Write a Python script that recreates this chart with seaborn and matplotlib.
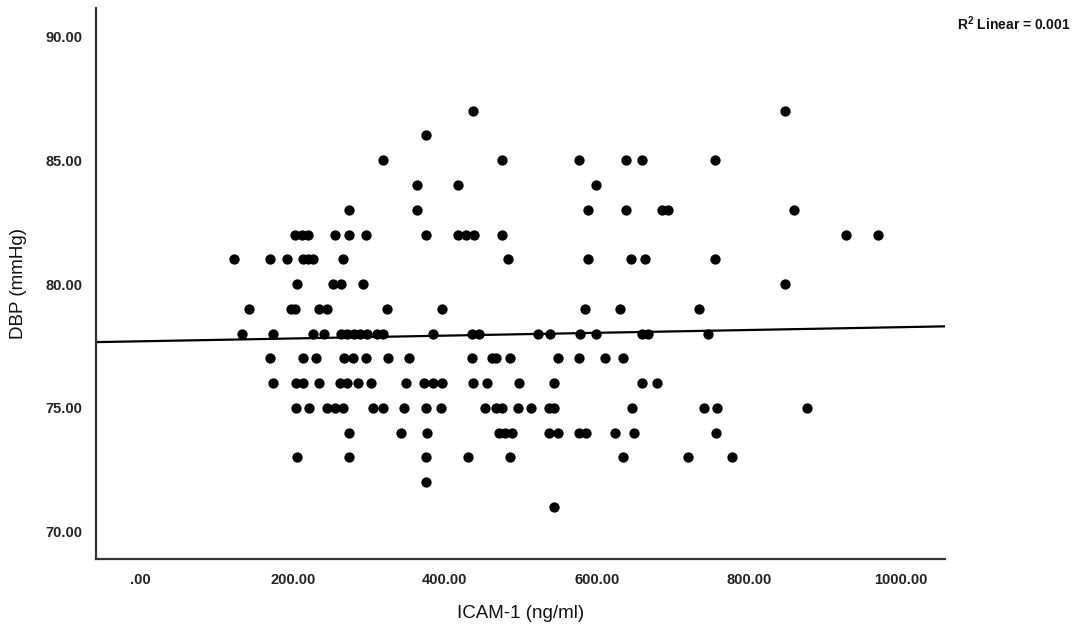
import numpy as np
import pandas as pd
import seaborn as sns
import matplotlib
matplotlib.use("Agg")
import matplotlib.pyplot as plt

# DBP levels (mmHg) and the ICAM-1 readings (ng/ml) observed at each level
dbp_levels = [87, 86, 85, 84, 83, 82, 81, 80, 79, 78, 77, 76, 75, 74, 73, 72, 71]
icam_by_level = [
    [437, 847],
    [375],
    [318, 475, 576, 639, 659, 755],
    [363, 417, 599],
    [274, 363, 588, 639, 686, 693, 859],
    [203, 212, 220, 255, 274, 296, 375, 417, 428, 438, 475, 928, 970],
    [122, 170, 192, 213, 220, 226, 266, 483, 588, 645, 663, 755],
    [205, 253, 263, 292, 847],
    [143, 197, 203, 234, 245, 324, 396, 584, 630, 734],
    [133, 174, 226, 241, 263, 271, 280, 289, 297, 311, 318, 384, 436, 445,
     522, 539, 578, 599, 659, 667, 746],
    [170, 214, 230, 268, 279, 296, 325, 353, 436, 462, 467, 486, 549, 576,
     611, 634],
    [174, 204, 213, 234, 262, 271, 286, 303, 349, 372, 384, 396, 437, 455,
     497, 543, 659, 679],
    [204, 221, 245, 255, 266, 305, 318, 346, 375, 395, 453, 467, 475, 496,
     513, 537, 543, 646, 741, 758, 876],
    [274, 342, 376, 471, 479, 488, 537, 549, 576, 586, 624, 649, 757],
    [205, 274, 375, 430, 486, 634, 720, 778],
    [375],
    [543],
]

# fitted linear line as reported (R2 = 0.001)
fit_intercept = 77.69
fit_slope = 0.00057
r2_text = "R$^{2}$ Linear = 0.001"

x_ticks = [0, 200, 400, 600, 800, 1000]
x_tick_labels = [".00", "200.00", "400.00", "600.00", "800.00", "1000.00"]
y_ticks = [70, 75, 80, 85, 90]
y_tick_labels = ["70.00", "75.00", "80.00", "85.00", "90.00"]

rows = []
for level, vals in zip(dbp_levels, icam_by_level):
    for v in vals:
        rows.append({"ICAM": v, "DBP": level})
df = pd.DataFrame(rows)

sns.set_style("white")
plt.rcParams["font.family"] = ["Liberation Sans", "DejaVu Sans"]
plt.rcParams["mathtext.fontset"] = "custom"
plt.rcParams["mathtext.rm"] = "Liberation Sans:bold"
plt.rcParams["mathtext.default"] = "rm"

fig = plt.figure(figsize=(10.78, 6.27), dpi=100)
ax = fig.add_axes([0.089, 0.1085, 0.7876, 0.8788])

sns.scatterplot(data=df, x="ICAM", y="DBP", ax=ax, color="black",
                s=55, linewidth=0, legend=False)
ax.axline((0, fit_intercept), slope=fit_slope, color="black", linewidth=1.6)

ax.set_xlim(-59, 1058)
ax.set_ylim(68.9, 91.15)
ax.set_xticks(x_ticks)
ax.set_xticklabels(x_tick_labels, fontweight="bold", fontsize=10.5, color="#222222")
ax.set_yticks(y_ticks)
ax.set_yticklabels(y_tick_labels, fontweight="bold", fontsize=10.5, color="#222222")
ax.tick_params(axis="both", length=0)
ax.tick_params(axis="x", pad=10)
ax.tick_params(axis="y", pad=10)

ax.set_xlabel("ICAM-1 (ng/ml)", fontsize=13.5, labelpad=13, color="#111111")
ax.set_ylabel("DBP (mmHg)", fontsize=13.5, labelpad=13, color="#111111")

sns.despine(ax=ax)
for side in ["left", "bottom"]:
    ax.spines[side].set_color("#333333")
    ax.spines[side].set_linewidth(1.6)

fig.text(0.993, 0.962, r2_text, fontsize=10, fontweight="bold", ha="right",
         va="center", color="#111111")

fig.savefig("out.png", dpi=100, facecolor="white")
